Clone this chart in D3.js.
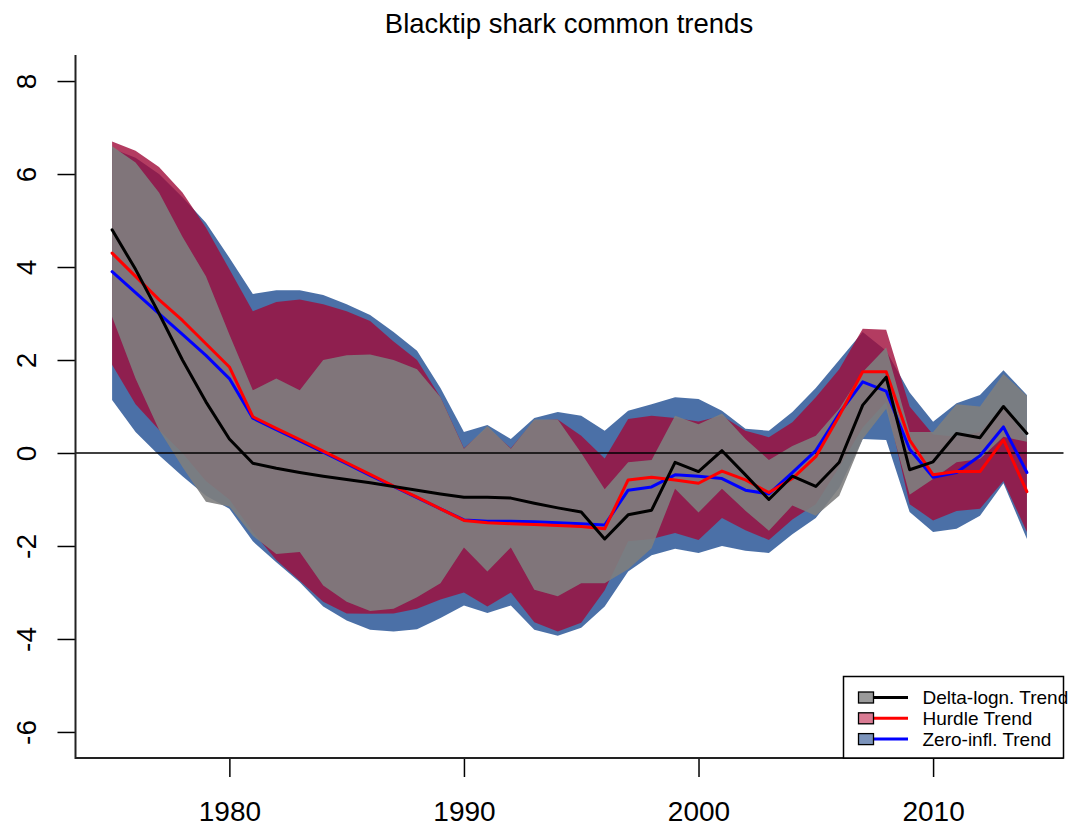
<!DOCTYPE html>
<html>
<head>
<meta charset="utf-8">
<script src="https://cdn.jsdelivr.net/npm/d3@7"></script>
<style>
  html, body { margin: 0; padding: 0; background: #fff; }
  svg { display: block; }
  text { font-family: "Liberation Sans", Arial, sans-serif; fill: #000; }
</style>
</head>
<body>
<svg id="chart" width="1071" height="829"></svg>
<script>
// Survey years
const years = [1975,1976,1977,1978,1979,1980,1981,1982,1983,1984,
               1985,1986,1987,1988,1989,1990,1991,1992,1993,1994,
               1995,1996,1997,1998,1999,2000,2001,2002,2003,2004,
               2005,2006,2007,2008,2009,2010,2011,2012,2013,2014];

// Delta-lognormal common trend and its interval
const deltaMid = [4.8,3.95,3.0,2.0,1.1,0.3,-0.22,-0.33,-0.42,-0.5,
                  -0.57,-0.64,-0.72,-0.8,-0.88,-0.95,-0.95,-0.97,-1.08,-1.18,
                  -1.27,-1.85,-1.33,-1.23,-0.2,-0.4,0.05,-0.47,-1.0,-0.5,
                  -0.72,-0.2,1.03,1.63,-0.36,-0.19,0.42,0.33,1.0,0.42];
const deltaLo  = [2.93,1.6,0.5,-0.3,-1.05,-1.15,-1.78,-2.17,-2.13,-2.85,
                  -3.2,-3.4,-3.35,-3.1,-2.8,-2.03,-2.55,-2.03,-2.94,-3.08,
                  -2.8,-2.8,-2.5,-2.05,-0.77,-1.28,-0.77,-1.24,-1.67,-1.13,
                  -1.35,-0.92,0.3,0.95,-0.9,-0.56,-0.2,-0.13,0.35,0.24];
const deltaHi  = [6.6,6.25,5.6,4.65,3.8,2.55,1.35,1.6,1.35,2.0,
                  2.1,2.12,2.0,1.8,1.2,0.09,0.58,0.09,0.72,0.72,
                  0.0,-0.78,-0.2,-0.15,0.8,0.62,0.85,0.3,-0.15,0.15,
                  0.37,0.95,1.74,2.27,0.45,0.45,1.05,1.0,1.7,1.23];

// Hurdle common trend and its interval
const hurdleMid = [4.3,3.8,3.3,2.85,2.35,1.85,0.78,0.53,0.29,0.04,
                   -0.21,-0.46,-0.71,-0.95,-1.2,-1.45,-1.5,-1.52,-1.54,-1.56,
                   -1.58,-1.63,-0.58,-0.52,-0.58,-0.65,-0.39,-0.58,-0.85,-0.55,
                   -0.08,0.8,1.75,1.75,0.28,-0.47,-0.4,-0.4,0.28,-0.83];
const hurdleLo  = [1.9,1.05,0.5,0.0,-0.6,-1.0,-1.7,-2.3,-2.75,-3.2,
                   -3.45,-3.46,-3.45,-3.35,-3.15,-3.0,-3.3,-3.0,-3.64,-3.84,
                   -3.65,-2.95,-1.9,-1.85,-1.72,-1.87,-1.4,-1.66,-1.87,-1.43,
                   -1.1,-0.3,0.55,1.1,-1.1,-1.45,-1.25,-1.2,-0.6,-1.7];
const hurdleHi  = [6.7,6.5,6.15,5.6,4.85,3.95,3.05,3.25,3.3,3.2,
                   3.05,2.84,2.4,2.0,1.2,0.1,0.55,0.1,0.7,0.72,
                   0.37,-0.12,0.73,0.8,0.75,0.68,0.8,0.48,0.34,0.66,
                   1.2,1.8,2.67,2.65,1.0,0.4,0.35,0.45,1.0,0.3];

// Zero-inflated common trend and its interval
const zeroMid = [3.9,3.45,3.0,2.55,2.1,1.6,0.75,0.5,0.26,0.02,
                 -0.23,-0.48,-0.72,-0.96,-1.2,-1.44,-1.47,-1.47,-1.48,-1.5,
                 -1.52,-1.55,-0.8,-0.73,-0.47,-0.5,-0.55,-0.8,-0.88,-0.42,
                 0.05,0.85,1.53,1.33,0.08,-0.52,-0.42,-0.06,0.56,-0.42];
const zeroLo  = [1.14,0.45,-0.05,-0.5,-0.92,-1.2,-1.9,-2.35,-2.78,-3.3,
                 -3.6,-3.8,-3.84,-3.79,-3.55,-3.28,-3.44,-3.28,-3.8,-3.93,
                 -3.76,-3.3,-2.55,-2.2,-2.06,-2.15,-2.0,-2.1,-2.15,-1.75,
                 -1.4,-0.75,0.3,0.28,-1.27,-1.7,-1.63,-1.35,-0.65,-1.85];
const zeroHi  = [6.55,6.35,6.0,5.5,4.95,4.2,3.42,3.5,3.5,3.4,
                 3.2,2.97,2.6,2.2,1.4,0.45,0.6,0.3,0.75,0.88,
                 0.8,0.48,0.91,1.05,1.2,1.16,0.91,0.52,0.48,0.88,
                 1.4,2.0,2.6,2.2,1.3,0.67,1.07,1.25,1.78,1.25];

// Axis ticks
const xTicks = [1980, 1990, 2000, 2010];
const yTicks = [-6, -4, -2, 0, 2, 4, 6, 8];

const legendLabels = ["Delta-logn. Trend", "Hurdle Trend", "Zero-infl. Trend"];

const svg = d3.select("#chart");

const x = d3.scaleLinear().domain([1973.44, 2015.56]).range([75.5, 1063.5]);
const y = d3.scaleLinear().domain([-6.56, 8.56]).range([758, 55]);

// Interval bands: drawn back to front (zero-inflated, hurdle, delta-lognormal)
const bands = [
  { lo: zeroLo,   hi: zeroHi,   fill: "rgb(60,100,160)", op: 0.92 },
  { lo: hurdleLo, hi: hurdleHi, fill: "rgb(160,11,58)",  op: 0.8 },
  { lo: deltaLo,  hi: deltaHi,  fill: "rgb(126,126,126)", op: 0.9 }
];

const area = d3.area()
  .x(d => x(d.yr))
  .y0(d => y(d.lo))
  .y1(d => y(d.hi));

bands.forEach(b => {
  const pts = years.map((yr, i) => ({ yr, lo: b.lo[i], hi: b.hi[i] }));
  svg.append("path")
    .attr("d", area(pts))
    .attr("fill", b.fill)
    .attr("fill-opacity", b.op)
    .attr("stroke", "none");
});

// Reference line at zero
svg.append("line")
  .attr("x1", x.range()[0]).attr("x2", x.range()[1])
  .attr("y1", y(0)).attr("y2", y(0))
  .attr("stroke", "#000").attr("stroke-width", 1.3);

// Trend lines
const line = d3.line().x(d => x(d.yr)).y(d => y(d.v));
const trends = [
  { v: zeroMid,   color: "#0000ff" },
  { v: hurdleMid, color: "#ff0000" },
  { v: deltaMid,  color: "#000000" }
];
trends.forEach(t => {
  svg.append("path")
    .attr("d", line(years.map((yr, i) => ({ yr, v: t.v[i] }))))
    .attr("fill", "none")
    .attr("stroke", t.color)
    .attr("stroke-width", 3)
    .attr("stroke-linejoin", "round")
    .attr("stroke-linecap", "round");
});

// Axes (L-shaped frame)
const xAxis = d3.axisBottom(x).tickValues(xTicks).tickFormat(d => String(d))
  .tickSizeInner(19).tickSizeOuter(0).tickPadding(24);
const gx = svg.append("g").attr("transform", `translate(0,758)`).call(xAxis);
gx.select(".domain").remove();
gx.selectAll(".tick line").attr("stroke", "#000").attr("stroke-width", 1.5);
gx.selectAll(".tick text")
  .attr("font-size", 28)
  .attr("font-family", "Liberation Sans, Arial, sans-serif")
  .attr("fill", "#000");

const yAxis = d3.axisLeft(y).tickValues(yTicks).tickFormat(d => String(d))
  .tickSizeInner(18).tickSizeOuter(0).tickPadding(0);
const gy = svg.append("g").attr("transform", `translate(75.5,0)`).call(yAxis);
gy.select(".domain").remove();
gy.selectAll(".tick line").attr("stroke", "#000").attr("stroke-width", 1.5);
gy.selectAll(".tick text").remove();
gy.selectAll(".tick").append("text")
  .attr("transform", "translate(-50,0) rotate(-90)")
  .attr("text-anchor", "middle")
  .attr("dy", "0.36em")
  .attr("font-size", 28)
  .attr("font-family", "Liberation Sans, Arial, sans-serif")
  .attr("fill", "#000")
  .text(d => String(d));

svg.append("path")
  .attr("d", `M${x.range()[0]},${y.range()[1]}V758H${x.range()[1]}`)
  .attr("fill", "none")
  .attr("stroke", "#222")
  .attr("stroke-width", 2);

// Title
svg.append("text")
  .attr("x", 569).attr("y", 33)
  .attr("text-anchor", "middle")
  .attr("font-size", 27.5)
  .text("Blacktip shark common trends");

// Legend
const legendFills = ["#9a9a9a", "#d97b93", "#7b93bb"];
const legendLines = ["#000000", "#ff0000", "#0000ff"];
const lg = svg.append("g");
lg.append("rect")
  .attr("x", 843.5).attr("y", 676.5)
  .attr("width", 220).attr("height", 81.5)
  .attr("fill", "#fff").attr("stroke", "#000").attr("stroke-width", 1.5);
legendLabels.forEach((lab, i) => {
  const cy = 697.5 + i * 20.8;
  lg.append("line")
    .attr("x1", 873).attr("x2", 908)
    .attr("y1", cy).attr("y2", cy)
    .attr("stroke", legendLines[i]).attr("stroke-width", 3);
  lg.append("rect")
    .attr("x", 858.5).attr("y", cy - 5.5)
    .attr("width", 15).attr("height", 11)
    .attr("fill", legendFills[i]).attr("stroke", "#000").attr("stroke-width", 1.3);
  lg.append("text")
    .attr("x", 922.5).attr("y", cy)
    .attr("dy", "0.35em")
    .attr("font-size", 19)
    .text(lab);
});
</script>
</body>
</html>
